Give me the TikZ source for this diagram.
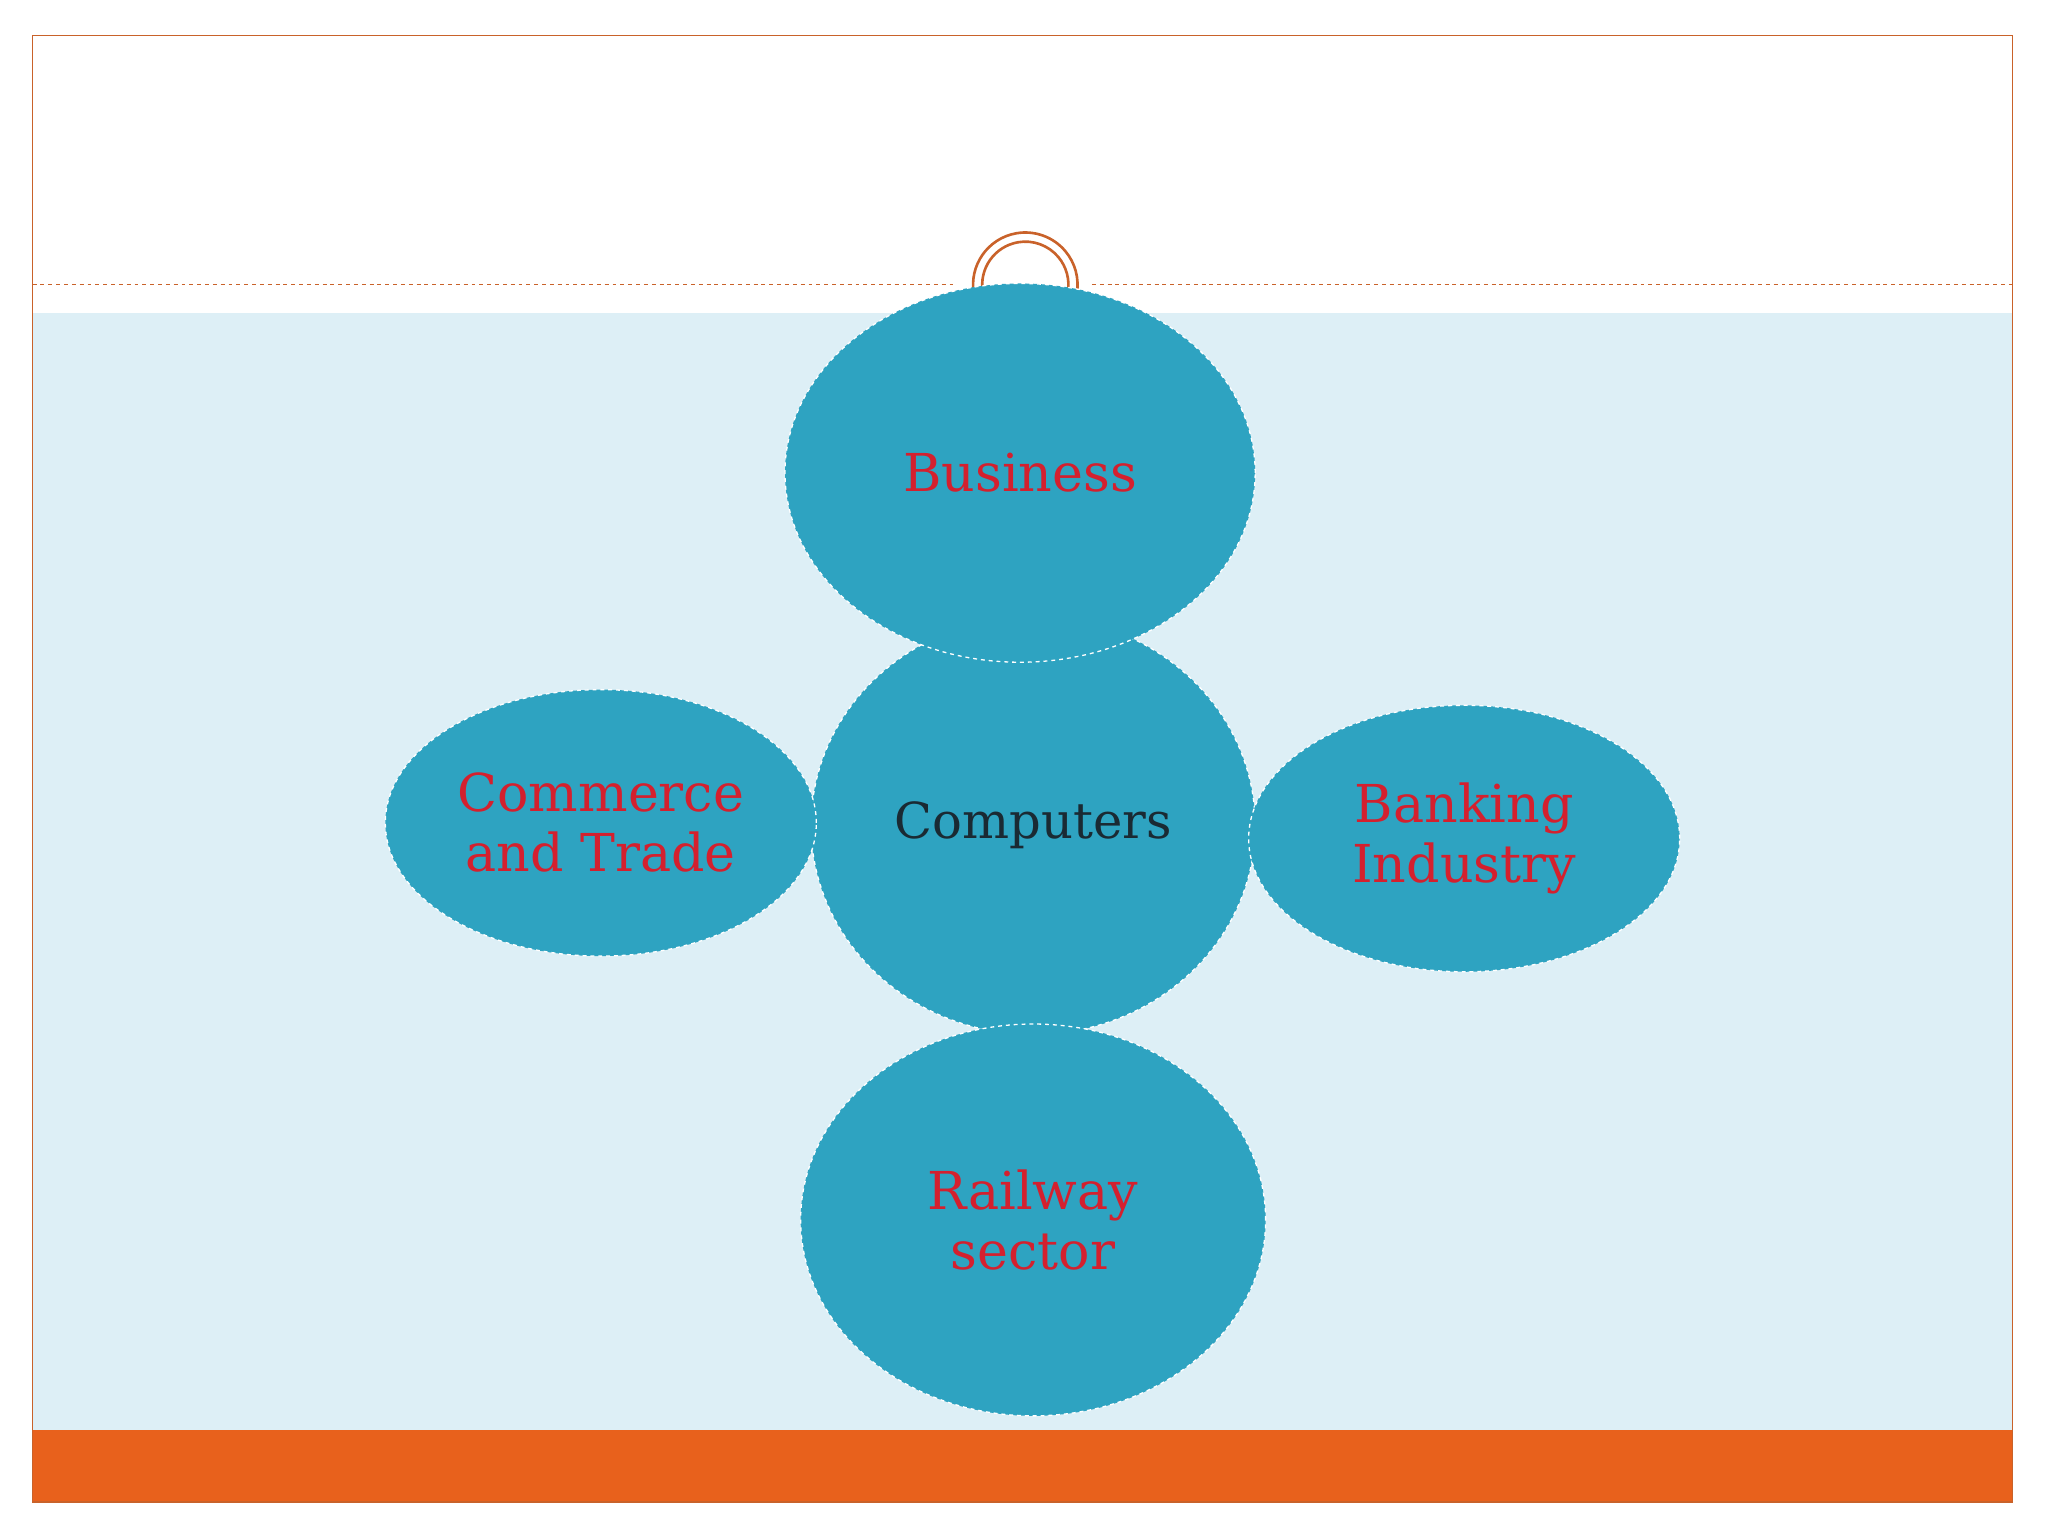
\documentclass[tikz,border=0pt]{standalone}
\usepackage{fontspec}
\setmainfont{DejaVu Serif}
\definecolor{orn}{HTML}{E8611C}
\definecolor{bord}{HTML}{C9622A}
\definecolor{pale}{HTML}{DDEFF6}
\definecolor{teal}{HTML}{2EA3C1}
\definecolor{redt}{HTML}{D4202E}
\definecolor{darkt}{HTML}{1A2A33}
\tikzset{blob/.style={ellipse,fill=teal,draw=white,dashed,line width=1pt,inner sep=0pt},
 lab/.style={text=redt,font=\fontsize{40}{46}\selectfont,align=center}}
\usetikzlibrary{shapes.geometric}
\begin{document}
\begin{tikzpicture}[x=1pt,y=-1pt]
\useasboundingbox (0,0) rectangle (1568,1176);
\fill[white] (0,0) rectangle (1568,1176);
\fill[pale] (25,240) rectangle (1541,1095);
\fill[orn] (25,1095) rectangle (1541,1150);
\draw[bord,line width=1pt] (25,27) rectangle (1541,1150);
\draw[bord,dashed,line width=0.8pt] (25,218) -- (732,218) (836,218) -- (1541,218);
\coordinate (hook) at (785,218);
\draw[bord,line width=2pt] (hook) ++(170:40) arc[start angle=170,end angle=370,radius=40];
\draw[bord,line width=2pt] (hook) ++(170:33) arc[start angle=170,end angle=370,radius=33];
\node[blob,minimum width=340,minimum height=320] (comp) at (791,632) {};
\node[text=darkt,font=\fontsize{38}{38}\selectfont] at (comp) {Computers};
\node[blob,minimum width=360,minimum height=290] (bus) at (781,362) {};
\node[lab] at (bus) {Business};
\node[blob,minimum width=330,minimum height=204] (com) at (460,630) {};
\node[lab] at (com) {Commerce\\and Trade};
\node[blob,minimum width=330,minimum height=204] (bank) at (1121,642) {};
\node[lab] at (bank) {Banking\\Industry};
\node[blob,minimum width=356,minimum height=300] (rail) at (791,934) {};
\node[lab] at (rail) {Railway\\sector};
\end{tikzpicture}
\end{document}
